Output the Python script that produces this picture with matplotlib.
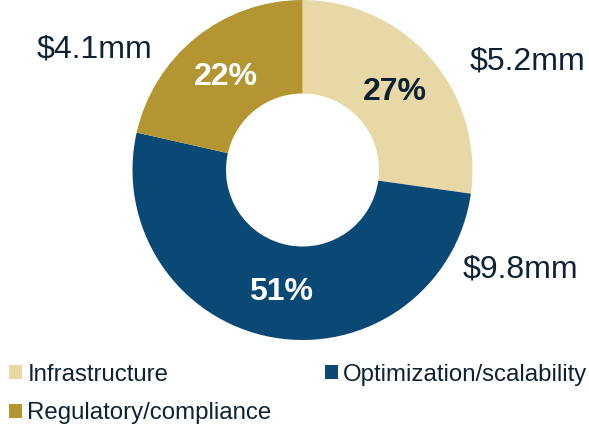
import matplotlib
matplotlib.use("Agg")
import matplotlib.pyplot as plt
import numpy as np
from matplotlib.patches import Patch

categories = ["Infrastructure", "Optimization/scalability", "Regulatory/compliance"]
values = [5.2, 9.8, 4.1]
value_labels = ["$5.2mm", "$9.8mm", "$4.1mm"]
pct_labels = ["27%", "51%", "22%"]
colors = ["#E8D8A6", "#0A4875", "#B39532"]
pct_colors = ["#0E2233", "white", "white"]
text_color = "#0E2233"

plt.rcParams['font.family'] = ['Liberation Sans', 'DejaVu Sans']

W, H = 589, 424
fig = plt.figure(figsize=(W / 100, H / 100), dpi=100)
ax = fig.add_axes([0, 0, 1, 1])

cx, cy, R = 302.5, H - 170, 170
wedges, _ = ax.pie(values, colors=colors, startangle=90, counterclock=False,
                   radius=R, center=(cx, cy),
                   wedgeprops=dict(width=R * 0.55, edgecolor='none', linewidth=0))
ax.set_xlim(0, W)
ax.set_ylim(0, H)
ax.set_aspect('equal')
ax.axis('off')

# percentage labels at wedge midpoints
rmid = 122
for w, lab, c in zip(wedges, pct_labels, pct_colors):
    ang = np.deg2rad((w.theta1 + w.theta2) / 2)
    ax.text(cx + rmid * np.cos(ang), cy + rmid * np.sin(ang) - 2, lab,
            ha='center', va='center', fontsize=23, fontweight='bold', color=c)

# value labels outside
label_pos = [(527.5, H - 69), (520, H - 277), (94.5, H - 58)]
for (x, y), lab in zip(label_pos, value_labels):
    ax.text(x, y, lab, ha='center', va='baseline', fontsize=23, color=text_color)

order = [0, 2, 1]
handles = [Patch(facecolor=colors[i], edgecolor='none') for i in order]
labels = [categories[i] for i in order]
leg = ax.legend(handles, labels, ncol=2, loc='upper left',
                bbox_to_anchor=(9 / W, 1 - 364 / H), bbox_transform=fig.transFigure,
                frameon=False, fontsize=17.3, handlelength=0.54, handleheight=0.52,
                handletextpad=0.22, columnspacing=2.23, labelspacing=0.67,
                borderaxespad=0, borderpad=0)
for t in leg.get_texts():
    t.set_color(text_color)

fig.savefig("out.png", dpi=100)
